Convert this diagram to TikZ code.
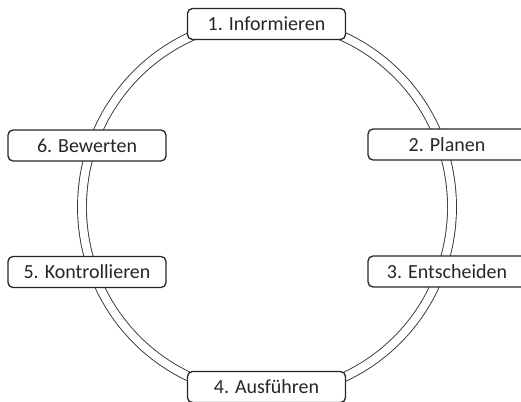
\documentclass[tikz,border=0pt]{standalone}
\usepackage{fontspec}
\setmainfont{Carlito}
\begin{document}
\begin{tikzpicture}[x=1pt,y=-1pt,
  stage/.style={draw=black!85, line width=1.3pt, fill=white, rounded corners=5pt,
    minimum width=158pt, minimum height=31pt, inner sep=0pt,
    font=\fontsize{20}{24}\selectfont, text=black!85}]
\useasboundingbox (0,0) rectangle (521,401);
\clip (0,0) rectangle (521,401);
\draw[line width=0.9pt, double=white, double distance=8pt, draw=black!80]
  (267,207) ellipse [x radius=185, y radius=187];
\node[stage] (s1) at (266.5,24) {1. Informieren};
\node[stage] (s2) at (447,144.5) {2. Planen};
\node[stage] (s3) at (447,271.5) {3. Entscheiden};
\node[stage] (s4) at (266.5,387) {4. Ausführen};
\node[stage] (s5) at (87,272) {5. Kontrollieren};
\node[stage] (s6) at (87,145.5) {6. Bewerten};
\end{tikzpicture}
\end{document}
